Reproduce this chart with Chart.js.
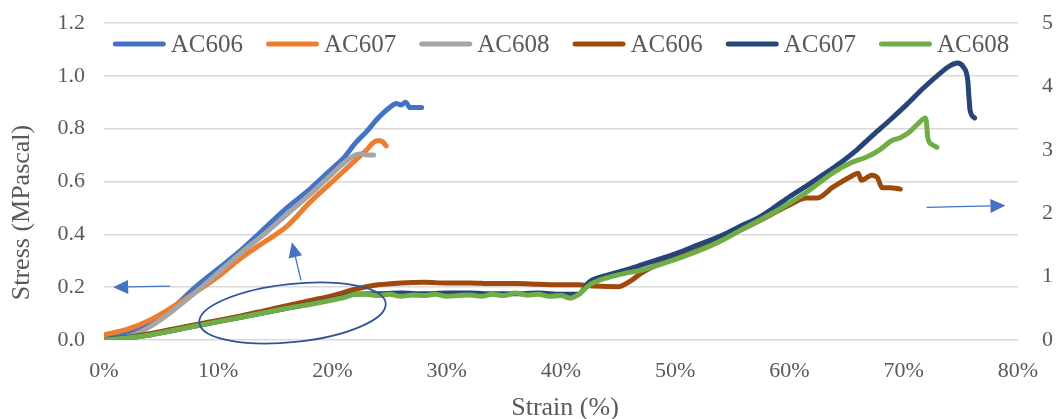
<!DOCTYPE html>
<html>
<head>
<meta charset="utf-8">
<script src="https://cdn.jsdelivr.net/npm/chart.js"></script>
<style>
  body { margin:0; background:#ffffff; }
  #wrap { width:1060px; height:419px; }
</style>
</head>
<body>
<div id="wrap"><canvas id="myChart" width="1060" height="419"></canvas></div>
<script>
  // primary axis, stress in MPascal : [strain %, stress]
  var ac606Left = [[0,0.01],[2,0.025],[4,0.06],[6,0.12],[8,0.2],[10,0.27],[12,0.34],[14,0.42],[16,0.5],[18,0.57],
    [19,0.61],[20,0.65],[21,0.69],[22,0.745],[23,0.79],[24,0.84],[25,0.88],[25.6,0.895],[26,0.89],[26.4,0.9],[26.8,0.88],[27.8,0.88]];
  var ac607Left = [[0,0.02],[2,0.04],[4,0.075],[6,0.125],[8,0.18],[10,0.24],[12,0.31],[14,0.37],[16,0.43],[18,0.52],
    [20,0.6],[22,0.68],[23,0.72],[23.5,0.745],[24,0.755],[24.4,0.75],[24.7,0.735]];
  var ac608Left = [[0,0.0],[2,0.01],[4,0.05],[6,0.11],[8,0.18],[10,0.255],[12,0.33],[14,0.4],[16,0.475],[18,0.55],
    [20,0.63],[21,0.67],[22,0.7],[22.5,0.705],[23,0.7],[23.6,0.7]];

  // secondary axis : [strain %, value]
  var ac606Right = [[0,0],[2,0.04],[4,0.1],[6,0.17],[8,0.24],[10,0.31],[12,0.38],[14,0.46],[16,0.54],[18,0.62],[20,0.7],
    [22,0.8],[24,0.87],[26,0.9],[28,0.91],[30,0.9],[32,0.9],[34,0.89],[36,0.89],[38,0.88],[40,0.87],[41.5,0.87],[43,0.85],
    [45,0.84],[46,0.92],[47,1.05],[48,1.15],[50,1.3],[52,1.42],[54,1.58],[56,1.76],[58,1.94],[60,2.13],[61.5,2.24],
    [62.4,2.24],[63.8,2.41],[65.3,2.57],[66,2.63],[66.3,2.52],[67.2,2.6],[67.7,2.56],[68.1,2.4],[68.8,2.4],[69.7,2.38]];
  var ac607Right = [[0,0],[4,0.08],[8,0.22],[12,0.36],[16,0.5],[20,0.64],[22,0.72],[24,0.73],[26,0.74],[28,0.73],[30,0.74],
    [32,0.74],[34,0.73],[36,0.73],[38,0.74],[40,0.72],[41.5,0.72],[42.5,0.92],[44,1.02],[46,1.12],[48,1.24],[50,1.36],
    [52,1.5],[54.2,1.66],[56,1.82],[57.2,1.92],[58.5,2.07],[60,2.26],[61.5,2.43],[62.9,2.6],[64.5,2.8],[65.9,3.0],
    [67.3,3.23],[68.8,3.47],[70.3,3.72],[71.7,3.97],[73.2,4.21],[74,4.32],[74.7,4.37],[75.2,4.31],[75.6,4.1],[75.7,3.85],
    [75.8,3.63],[76.2,3.5]];
  var ac608Right = [[0,0],[2,0.03],[4,0.08],[6,0.15],[8,0.22],[10,0.29],[12,0.36],[14,0.43],[16,0.5],[18,0.56],[20,0.63],
    [21,0.67],[22,0.72],[23,0.72],[24,0.7],[25,0.72],[26,0.69],[27,0.71],[28,0.7],[29,0.72],[30,0.69],[31,0.7],[32,0.71],
    [33,0.69],[34,0.72],[35,0.7],[36,0.74],[37,0.71],[38,0.72],[39,0.69],[40,0.7],[40.8,0.66],[41.4,0.7],[42.5,0.87],
    [44,0.98],[45.8,1.06],[47,1.1],[48.5,1.18],[50,1.27],[51.5,1.37],[53,1.48],[54.5,1.61],[56,1.76],[57.5,1.9],[59,2.05],
    [60,2.16],[61.5,2.33],[62.9,2.52],[64,2.66],[65.3,2.79],[66.8,2.89],[67.9,3.0],[69,3.15],[69.7,3.19],[70.5,3.28],
    [71.2,3.4],[71.9,3.5],[72,3.42],[72.1,3.19],[72.5,3.08],[72.9,3.04]];

  var seriesLabels = ['AC606','AC607','AC608','AC606','AC607','AC608'];

  // arrows [fromStrain, fromStress, toStrain, toStress] and the ellipse, in primary axis units
  var arrows = [[5.8,0.204,0.8,0.2],[17.24,0.226,16.45,0.37],[72.0,0.502,78.9,0.509]];
  var ellipse = {strain:16.5, stress:0.102, rStrain:8.2, rStress:0.11, angle:-6};

  var textColor = '#595959';
  var fontName = '"Liberation Serif", "Times New Roman", serif';

  function toPoints(list) {
    return list.map(function(p){ return {x:p[0], y:p[1]}; });
  }

  function makeSet(i, list, color, axis, order) {
    return {
      label: seriesLabels[i], data: toPoints(list), yAxisID: axis,
      borderColor: color, backgroundColor: color, borderWidth: 5,
      pointRadius: 0, cubicInterpolationMode: 'monotone',
      borderJoinStyle: 'round', borderCapStyle: 'round',
      order: order
    };
  }

  function drawArrow(ctx, x1, y1, x2, y2) {
    var ang = Math.atan2(y2-y1, x2-x1);
    var len = 15, half = 7;
    var bx = x2 - Math.cos(ang)*len, by = y2 - Math.sin(ang)*len;
    ctx.beginPath(); ctx.moveTo(x1,y1); ctx.lineTo(bx,by); ctx.stroke();
    ctx.beginPath();
    ctx.moveTo(x2,y2);
    ctx.lineTo(bx + Math.sin(ang)*half, by - Math.cos(ang)*half);
    ctx.lineTo(bx - Math.sin(ang)*half, by + Math.cos(ang)*half);
    ctx.closePath(); ctx.fill();
  }

  var extrasPlugin = {
    id: 'extras',
    afterDatasetsDraw: function(chart) {
      var ctx = chart.ctx, area = chart.chartArea;
      var xs = chart.scales.x, ys = chart.scales.y;
      ctx.save();

      // arrows
      ctx.strokeStyle = '#4472C4'; ctx.fillStyle = '#4472C4'; ctx.lineWidth = 1.3;
      arrows.forEach(function(a){
        drawArrow(ctx, xs.getPixelForValue(a[0]), ys.getPixelForValue(a[1]),
                       xs.getPixelForValue(a[2]), ys.getPixelForValue(a[3]));
      });

      // ellipse
      var cx = xs.getPixelForValue(ellipse.strain), cy = ys.getPixelForValue(ellipse.stress);
      var rx = xs.getPixelForValue(ellipse.strain + ellipse.rStrain) - cx;
      var ry = cy - ys.getPixelForValue(ellipse.stress + ellipse.rStress);
      ctx.strokeStyle = '#2F5597'; ctx.lineWidth = 1.8;
      ctx.beginPath(); ctx.ellipse(cx, cy, rx, ry, ellipse.angle*Math.PI/180, 0, Math.PI*2); ctx.stroke();

      // legend inside the plot area
      ctx.font = '25px ' + fontName;
      var items = chart.data.datasets.map(function(d){
        return {label:d.label, color:d.borderColor, w: 58 + ctx.measureText(d.label).width};
      });
      var gap = 23;
      var total = items.reduce(function(s,it){ return s + it.w; }, 0) + gap*(items.length-1);
      var x = (area.left + area.right)/2 - total/2;
      var y = area.top + 21;
      items.forEach(function(it){
        ctx.strokeStyle = it.color; ctx.lineWidth = 5; ctx.lineCap = 'round';
        ctx.beginPath(); ctx.moveTo(x+2.5, y); ctx.lineTo(x+50.5, y); ctx.stroke();
        ctx.fillStyle = textColor; ctx.textAlign = 'left'; ctx.textBaseline = 'alphabetic';
        ctx.fillText(it.label, x+58, y+8);
        x += it.w + gap;
      });

      // axis titles
      ctx.font = '26px ' + fontName;
      ctx.fillStyle = textColor;
      ctx.textAlign = 'center'; ctx.textBaseline = 'alphabetic';
      ctx.fillText('Strain (%)', (area.left + area.right)/2 + 4, area.bottom + 75);
      ctx.translate(22, (area.top + area.bottom)/2 + 31);
      ctx.rotate(-Math.PI/2);
      ctx.textBaseline = 'middle';
      ctx.fillText('Stress (MPascal)', 0, 0);
      ctx.restore();
    }
  };

  var tickFont = {family: fontName, size: 22};

  new Chart(document.getElementById('myChart'), {
    type: 'line',
    data: {
      datasets: [
        makeSet(0, ac606Left, '#4472C4', 'y', 6),
        makeSet(1, ac607Left, '#ED7D31', 'y', 5),
        makeSet(2, ac608Left, '#A5A5A5', 'y', 4),
        makeSet(3, ac606Right, '#9E480E', 'y2', 3),
        makeSet(4, ac607Right, '#264478', 'y2', 2),
        makeSet(5, ac608Right, '#70AD47', 'y2', 1)
      ]
    },
    options: {
      responsive: false,
      animation: false,
      devicePixelRatio: 1,
      layout: { padding: { top: 23, left: 0, right: 0, bottom: 0 } },
      plugins: { legend: { display: false }, tooltip: { enabled: false } },
      scales: {
        x: {
          type: 'linear', min: 0, max: 80,
          grid: { display: false, drawTicks: false },
          border: { display: false },
          ticks: { stepSize: 10, font: tickFont, color: textColor, padding: 18,
                   callback: function(v){ return v + '%'; } },
          afterFit: function(s){ s.height = 79; }
        },
        y: {
          position: 'left', min: 0, max: 1.2,
          // invisible tick marks keep the labels away from the plot
          grid: { color: '#D9D9D9', lineWidth: 1.5, drawTicks: true, tickLength: 19, tickColor: 'rgba(0,0,0,0)' },
          border: { display: false },
          ticks: { stepSize: 0.2, font: tickFont, color: textColor, padding: 0,
                   callback: function(v){ return v.toFixed(1); } },
          afterFit: function(s){ s.width = 104; }
        },
        y2: {
          position: 'right', min: 0, max: 5,
          grid: { display: true, drawOnChartArea: false, drawTicks: true, tickLength: 24,
                  color: 'rgba(0,0,0,0)', tickColor: 'rgba(0,0,0,0)' },
          border: { display: false },
          ticks: { stepSize: 1, font: tickFont, color: textColor, padding: 0 },
          afterFit: function(s){ s.width = 42; }
        }
      }
    },
    plugins: [extrasPlugin]
  });
</script>
</body>
</html>
